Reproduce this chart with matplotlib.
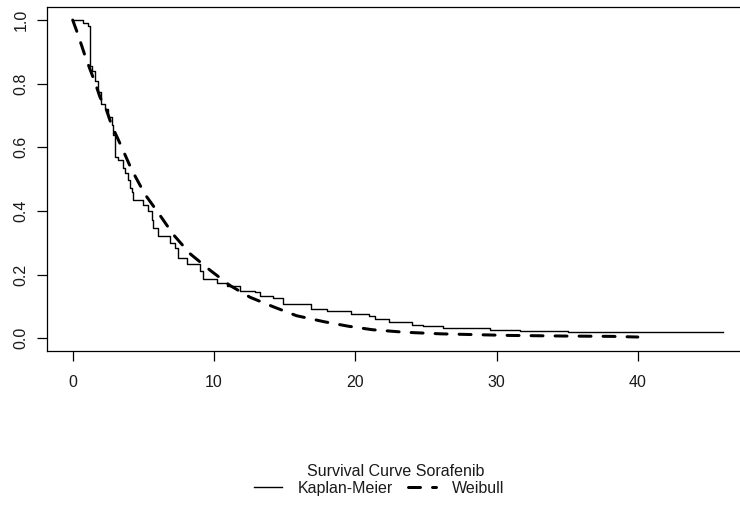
"""Survival curve: Kaplan-Meier vs Weibull."""

import matplotlib

matplotlib.use("Agg")
from matplotlib import pyplot as plt

# Kaplan-Meier step estimate (time, survival after step)
km_time = [0, 0.75, 1.06, 1.2, 1.34, 1.58, 1.81, 2.0, 2.29, 2.52, 2.76, 2.87,
           2.99, 3.23, 3.58, 3.7, 3.94, 4.06, 4.18, 4.29, 5.0, 5.35, 5.59, 5.7,
           6.06, 6.88, 7.24, 7.47, 8.07, 9.0, 9.24, 10.19, 10.9, 11.84, 12.9,
           13.25, 14.2, 14.9, 16.9, 18.0, 19.7, 20.95, 21.4, 22.4, 24.0, 24.8,
           26.2, 29.5, 31.65, 35.06, 46.0]
km_surv = [1.0, 0.992, 0.981, 0.857, 0.841, 0.81, 0.773, 0.737, 0.721, 0.695,
           0.669, 0.638, 0.570, 0.560, 0.534, 0.519, 0.498, 0.472, 0.461, 0.436,
           0.420, 0.399, 0.373, 0.347, 0.321, 0.300, 0.284, 0.253, 0.232, 0.212,
           0.186, 0.175, 0.165, 0.149, 0.144, 0.134, 0.128, 0.108, 0.092, 0.087,
           0.076, 0.071, 0.061, 0.052, 0.042, 0.038, 0.033, 0.027, 0.023, 0.019,
           0.019]

# Weibull fit
wb_time = [0, 0.28, 0.64, 0.87, 1.22, 1.58, 1.93, 2.4, 2.76, 3.35, 4.18, 5.12,
           6.06, 7.12, 8.3, 9.72, 11.13, 12.55, 14.2, 15.84, 17.8, 19.5, 21.2,
           23.5, 26.06, 30.9, 35.0, 38.2, 40.0]
wb_surv = [1.0, 0.966, 0.919, 0.888, 0.846, 0.804, 0.758, 0.716, 0.669, 0.612,
           0.529, 0.452, 0.394, 0.326, 0.266, 0.214, 0.166, 0.129, 0.099, 0.071,
           0.052, 0.038, 0.027, 0.019, 0.014, 0.009, 0.007, 0.006, 0.004]

x_ticks = [0, 10, 20, 30, 40]
y_ticks = [0.0, 0.2, 0.4, 0.6, 0.8, 1.0]

plt.rcParams["font.family"] = ["Liberation Sans", "DejaVu Sans"]
plt.rcParams["font.size"] = 11.5
TXT = "#1a1a1a"

fig = plt.figure(figsize=(7.4, 5.08), dpi=100)
# R-style plot region; right border runs off the image
ax = fig.add_axes((0.0631, 0.309, 0.9486, 0.6766))

(km_line,) = ax.step(km_time, km_surv, where="post", color="black",
                     linewidth=1.0, label="Kaplan-Meier")
(wb_line,) = ax.plot(wb_time, wb_surv, color="black", linewidth=2.16,
                     dashes=(4, 4), dash_capstyle="round",
                     label="Weibull")

ax.set_xlim(-1.84, 47.84)
ax.set_ylim(-0.04, 1.04)
ax.set_xticks(x_ticks)
ax.set_yticks(y_ticks)
ax.set_yticklabels([f"{v:.1f}" for v in y_ticks], rotation=90, va="center")
ax.tick_params(axis="x", length=7, width=0.9, pad=10, labelcolor=TXT)
ax.tick_params(axis="y", length=7, width=0.9, pad=6, labelcolor=TXT)
for s in ax.spines.values():
    s.set_linewidth(0.9)

fig.text(396 / 740, 1 - 471.7 / 508, "Survival Curve Sorafenib",
         ha="center", va="center", color=TXT)
leg = fig.legend(handles=[km_line, wb_line], loc="center",
                 bbox_to_anchor=(379 / 740, 1 - 488.3 / 508), ncol=2,
                 frameon=False, handlelength=1.75, handletextpad=1.0,
                 columnspacing=0.95, borderaxespad=0, borderpad=0,
                 labelcolor=TXT)

fig.savefig("out.png", dpi=100)
plt.close(fig)
